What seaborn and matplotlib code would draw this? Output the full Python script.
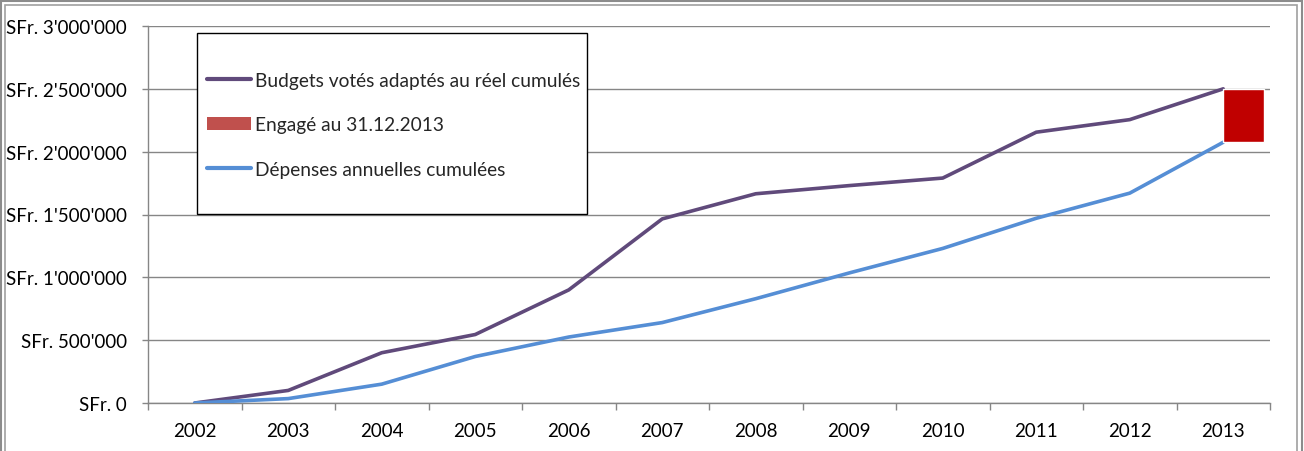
import numpy as np
import pandas as pd
import matplotlib
matplotlib.use("Agg")
import matplotlib.pyplot as plt
import seaborn as sns
from matplotlib.lines import Line2D
from matplotlib.patches import Patch, Rectangle
from matplotlib.ticker import FixedLocator, FuncFormatter

# Données
annees = [2002, 2003, 2004, 2005, 2006, 2007, 2008, 2009, 2010, 2011, 2012, 2013]
budgets = [0, 100000, 400000, 545000, 900000, 1465000, 1665000, 1730000,
           1790000, 2155000, 2255000, 2500000]
depenses = [0, 35000, 150000, 370000, 525000, 640000, 830000, 1035000,
            1230000, 1470000, 1670000, 2075000]
engage_2013 = 425000

lbl_budgets = "Budgets votés adaptés au réel cumulés"
lbl_engage = "Engagé au 31.12.2013"
lbl_depenses = "Dépenses annuelles cumulées"

sns.set_theme(style="white")
plt.rcParams['font.family'] = ['Lato', 'DejaVu Sans']

df = pd.DataFrame({
    "annee": annees * 2,
    "montant": budgets + depenses,
    "serie": [lbl_budgets] * len(annees) + [lbl_depenses] * len(annees),
})
couleurs = {lbl_budgets: "#604A7B", lbl_depenses: "#558ED5"}

fig = plt.figure(figsize=(13.04, 4.52), dpi=100)
ax = fig.add_axes([148 / 1304, 1 - 404 / 452, 1122 / 1304, 377 / 452])

sns.lineplot(data=df, x="annee", y="montant", hue="serie", palette=couleurs,
             linewidth=2.6, ax=ax, legend=False, zorder=3)

# barre flottante "engagé" posée sur les dépenses 2013
ax.bar([annees[-1]], [engage_2013], bottom=[depenses[-1]], width=0.44,
       align="edge", color="#C00000", zorder=4)

ax.set_xlim(annees[0] - 0.5, annees[-1] + 0.5)
ax.set_ylim(0, 3000000)
ax.set_yticks(np.arange(0, 3000001, 500000))
ax.yaxis.set_major_formatter(FuncFormatter(
    lambda v, p: "SFr. " + f"{int(v):,}".replace(",", "'")))
ax.set_xticks(annees)
ax.set_xticklabels([str(a) for a in annees])
ax.xaxis.set_minor_locator(FixedLocator(np.arange(annees[0] - 0.5, annees[-1] + 1, 1)))
ax.set_xlabel("")
ax.set_ylabel("")

ax.grid(axis="y", color="#868686", linewidth=1.0, zorder=0)
ax.grid(axis="x", visible=False)
for s in ["top", "right"]:
    ax.spines[s].set_visible(False)
for s in ["left", "bottom"]:
    ax.spines[s].set_color("#868686")
    ax.spines[s].set_linewidth(1.0)

ax.tick_params(axis="y", which="major", left=True, length=4, width=1,
               color="#868686", pad=11, labelsize=13.5, labelcolor="black")
ax.tick_params(axis="x", which="major", bottom=False, length=0, pad=14,
               labelsize=13.5, labelcolor="black")
ax.tick_params(axis="x", which="minor", bottom=True, length=5, width=1,
               color="#868686")

# cadre de la légende
ax.add_patch(Rectangle((49 / 1122, 1 - 181 / 377 - 7 / 377), 390 / 1122, 181 / 377,
                       transform=ax.transAxes, facecolor="white",
                       edgecolor="black", linewidth=1.0, zorder=5))
handles = [
    Line2D([0], [0], color="#604A7B", linewidth=3),
    Patch(facecolor="#C0504D", edgecolor="none"),
    Line2D([0], [0], color="#558ED5", linewidth=3),
]
leg = ax.legend(handles, [lbl_budgets, lbl_engage, lbl_depenses],
                loc="upper left", bbox_to_anchor=(59 / 1122, 1 - 46 / 377),
                frameon=False, fontsize=13.8, handlelength=2.3,
                handletextpad=0.2, labelspacing=1.43, borderpad=0,
                borderaxespad=0)
leg.set_zorder(6)

# cadre extérieur façon Excel
fig.patches.append(Rectangle((0.5 / 1304, -0.01), 1301 / 1304, 1 - 1.5 / 452 + 0.01,
                             transform=fig.transFigure, fill=False,
                             edgecolor="#8c8c8c", linewidth=1.5))
fig.patches.append(Rectangle((5 / 1304, -0.01), 1292 / 1304, 1 - 5.5 / 452 + 0.01,
                             transform=fig.transFigure, fill=False,
                             edgecolor="#a0a0a0", linewidth=1.2))

fig.savefig("out.png", dpi=100)
